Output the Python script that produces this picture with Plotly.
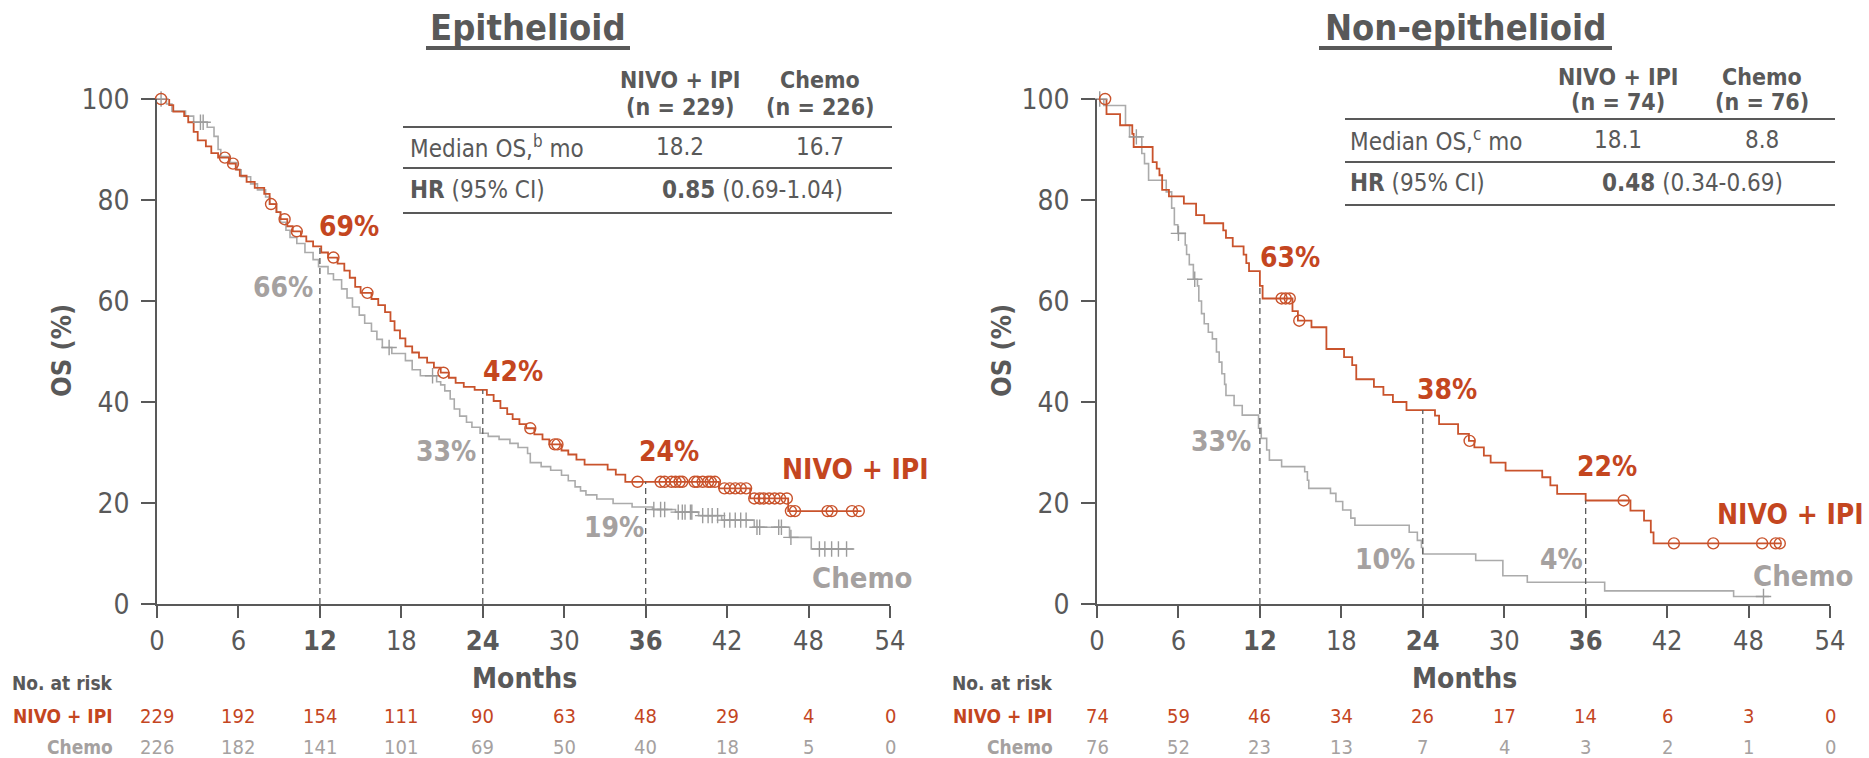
import bisect
import plotly.graph_objects as go

W, H = 1869, 758

# ---------------- data ----------------
month_ticks = [0, 6, 12, 18, 24, 30, 36, 42, 48, 54]
os_ticks = [0, 20, 40, 60, 80, 100]
landmarks = [12, 24, 36]

# Epithelioid - NIVO + IPI
epi_nivo_t = [0, 0.9, 1.2, 2.0, 2.3, 2.7, 3.0, 3.6, 4.0, 4.5, 5.3, 5.8, 6.1, 6.6, 7.2, 7.9, 8.3, 8.8,
              9.1, 9.6, 10.0, 10.6, 11.0, 11.5, 12.1, 12.6, 13.3, 13.8, 14.2, 14.6, 15.0, 15.8, 16.3,
              16.8, 17.2, 17.5, 17.9, 18.3, 18.8, 19.3, 19.9, 20.4, 20.9, 21.5, 22.0, 22.6, 23.4, 24.3,
              24.8, 25.3, 25.8, 26.2, 26.7, 27.2, 27.8, 28.4, 28.9, 29.8, 30.3, 30.9, 31.5, 33.2, 33.8,
              34.5, 41.4, 43.7, 46.5]
epi_nivo_s = [100, 98.8, 97.5, 96.6, 95.4, 93.5, 91.8, 90.6, 89.3, 88.4, 87.2, 86.0, 84.8, 83.6, 82.4,
              81.2, 79.2, 77.6, 76.2, 74.8, 73.8, 72.8, 71.8, 70.8, 69.6, 68.6, 67.4, 66.0, 64.6, 62.8,
              61.6, 60.4, 59.2, 57.8, 56.0, 54.2, 52.6, 51.0, 49.8, 48.8, 47.8, 46.8, 45.8, 44.8, 43.8,
              43.0, 42.4, 41.4, 40.2, 38.8, 37.6, 36.6, 35.6, 34.8, 33.6, 32.6, 31.6, 30.4, 29.6, 28.6,
              27.6, 26.6, 25.6, 24.2, 22.9, 20.9, 18.4]
epi_nivo_end = 51.9
epi_nivo_cens = [0.3, 5.0, 5.6, 8.4, 9.4, 10.3, 13.0, 15.5, 21.1, 27.5, 29.3, 29.5, 35.4, 37.1, 37.4,
                 37.9, 38.2, 38.5, 38.7, 39.6, 39.8, 40.2, 40.6, 40.8, 41.1, 41.8, 42.2, 42.6, 43.0,
                 43.4, 44.0, 44.4, 44.7, 45.1, 45.5, 45.9, 46.4, 46.7, 47.0, 49.4, 49.7, 51.2, 51.7]

# Epithelioid - Chemo
epi_chemo_t = [0, 0.7, 1.1, 2.1, 2.7, 3.7, 4.2, 4.5, 4.7, 5.4, 5.9, 6.2, 6.9, 7.4, 8.0, 8.3, 8.8, 9.1,
               9.5, 9.8, 10.3, 10.9, 11.5, 11.9, 12.6, 13.0, 13.6, 14.0, 14.4, 14.9, 15.3, 15.8, 16.2,
               16.6, 17.3, 18.3, 18.8, 19.4, 20.6, 20.9, 21.2, 21.6, 21.9, 22.3, 22.8, 23.2, 23.8, 24.4,
               25.2, 26.0, 26.6, 27.3, 27.5, 28.3, 29.0, 29.8, 30.3, 30.8, 31.2, 31.6, 32.4, 33.6, 35.0,
               36.5, 38.2, 39.9, 41.6, 44.0, 46.6, 48.2]
epi_chemo_s = [100, 99.0, 97.6, 96.6, 95.4, 94.4, 92.6, 90.0, 88.6, 87.4, 86.0, 84.6, 83.2, 82.0, 80.6,
               79.2, 77.6, 75.6, 74.0, 72.6, 71.4, 69.6, 68.2, 66.8, 65.4, 64.2, 62.4, 60.6, 58.8, 57.2,
               55.6, 54.0, 52.4, 50.8, 49.6, 48.2, 46.4, 45.2, 44.0, 43.4, 42.2, 40.6, 38.6, 37.2, 36.0,
               35.0, 33.8, 33.2, 32.6, 31.8, 31.0, 29.8, 28.0, 27.2, 26.5, 25.5, 24.4, 23.2, 22.4, 21.6,
               20.8, 19.9, 19.2, 18.7, 18.2, 17.5, 16.6, 15.2, 13.2, 10.9]
epi_chemo_end = 51.3
epi_chemo_cens = [0.3, 3.2, 3.4, 17.1, 20.3, 36.6, 37.1, 37.4, 38.4, 38.7, 38.9, 39.3, 39.4, 40.2,
                  40.6, 40.9, 41.3, 41.8, 42.2, 42.6, 43.0, 43.4, 44.2, 44.4, 45.8, 46.0, 46.7, 48.8,
                  49.2, 49.7, 50.2, 50.8]

# Non-epithelioid - NIVO + IPI
non_nivo_t = [0, 0.7, 1.7, 2.6, 2.7, 4.1, 4.4, 4.6, 4.8, 5.3, 6.4, 7.3, 7.9, 9.3, 9.5, 10.0, 10.8, 11.0,
              11.2, 12.0, 12.2, 14.4, 14.8, 15.8, 16.9, 18.2, 18.8, 19.1, 20.4, 21.1, 21.8, 22.8, 24.9,
              25.2, 26.6, 27.4, 27.8, 28.5, 29.0, 30.1, 32.8, 33.4, 33.9, 36.0, 39.3, 40.3, 40.8, 41.0]
non_nivo_s = [100, 97.0, 94.8, 93.1, 90.5, 87.5, 86.2, 84.9, 82.0, 80.7, 79.3, 77.0, 75.4, 74.0, 72.5,
              70.8, 69.2, 67.5, 65.9, 63.0, 60.5, 58.0, 56.1, 54.8, 50.5, 48.9, 47.3, 44.5, 43.0, 41.4,
              40.0, 38.4, 37.3, 35.6, 33.7, 32.3, 31.0, 29.4, 28.0, 26.4, 25.1, 23.5, 21.8, 20.5, 18.5,
              16.5, 14.2, 12.0]
non_nivo_end = 50.4
non_nivo_cens = [0.6, 13.6, 13.9, 14.2, 14.9, 27.45, 38.8, 42.5, 45.4, 49.0, 50.0, 50.3]

# Non-epithelioid - Chemo
non_chemo_t = [0, 0.5, 2.1, 2.4, 3.3, 3.5, 3.8, 5.1, 5.5, 5.7, 5.95, 6.5, 6.6, 6.8, 7.1, 7.4, 7.5, 7.7,
               7.9, 8.2, 8.5, 8.8, 9.0, 9.2, 9.4, 9.5, 10.1, 10.7, 11.9, 12.1, 12.5, 12.7, 13.6, 15.3,
               15.5, 15.6, 17.2, 17.6, 18.1, 18.7, 19.0, 23.0, 23.6, 23.9, 24.0, 27.9, 29.9, 31.7, 37.4,
               46.9]
non_chemo_s = [100, 98.7, 94.8, 92.5, 89.2, 87.2, 83.9, 81.6, 78.4, 75.1, 73.4, 71.1, 69.2, 67.2, 64.3,
               63.0, 60.0, 57.5, 55.5, 53.8, 52.5, 49.9, 47.9, 45.6, 43.5, 41.3, 39.3, 37.4, 34.8, 32.8,
               30.5, 28.5, 27.2, 26.2, 24.5, 22.9, 21.9, 20.3, 18.6, 17.0, 15.6, 14.2, 12.6, 11.2, 9.9,
               8.6, 5.6, 4.3, 2.6, 1.5]
non_chemo_end = 49.5
non_chemo_cens = [0.2, 2.9, 6.0, 7.2, 49.1]

# Numbers at risk
epi_risk_nivo = [229, 192, 154, 111, 90, 63, 48, 29, 4, 0]
epi_risk_chemo = [226, 182, 141, 101, 69, 50, 40, 18, 5, 0]
non_risk_nivo = [74, 59, 46, 34, 26, 17, 14, 6, 3, 0]
non_risk_chemo = [76, 52, 23, 13, 7, 4, 3, 2, 1, 0]

# Landmark percentages
epi_pct_nivo = ["69%", "42%", "24%"]
epi_pct_chemo = ["66%", "33%", "19%"]
non_pct_nivo = ["63%", "38%", "22%"]
non_pct_chemo = ["33%", "10%", "4%"]

# Summary tables
epi_n = [229, 226]
non_n = [74, 76]
epi_median = ["18.2", "16.7"]
non_median = ["18.1", "8.8"]
epi_hr, epi_ci = "0.85", "(0.69-1.04)"
non_hr, non_ci = "0.48", "(0.34-0.69)"

# ---------------- style ----------------
FONT = "DejaVu Sans Condensed, DejaVu Sans, sans-serif"
DARK = "#595959"
RED = "#C4461F"
RED_LINE = "#C9532C"
GRAY_TXT = "#A5A1A0"
GRAY_LINE = "#ABABAB"
GRAY_MARK = "#9C9C9C"


def fx(px):
    return px / W


def fy(py):
    return 1 - py / H


YD = [fy(604), fy(99)]
XD1 = [fx(157), fx(890)]
XD2 = [fx(1097), fx(1830)]


def surv_at(ts, ss, x):
    return ss[bisect.bisect_right(ts, x) - 1]


fig = go.Figure()


def add_panel(xa, ya, nt, ns, nend, ncens, ct, cs, cend, ccens):
    fig.add_trace(go.Scatter(x=ct + [cend], y=cs + [cs[-1]], mode="lines", line_shape="hv",
                             line=dict(color=GRAY_LINE, width=1.6), xaxis=xa, yaxis=ya,
                             hoverinfo="skip"))
    fig.add_trace(go.Scatter(x=nt + [nend], y=ns + [ns[-1]], mode="lines", line_shape="hv",
                             line=dict(color=RED_LINE, width=1.8), xaxis=xa, yaxis=ya,
                             hoverinfo="skip"))
    fig.add_trace(go.Scatter(x=ccens, y=[surv_at(ct, cs, c) for c in ccens], mode="markers",
                             marker=dict(symbol="cross-thin-open", size=11, color=GRAY_MARK,
                                         line=dict(color=GRAY_MARK, width=1.4)),
                             xaxis=xa, yaxis=ya, cliponaxis=False, hoverinfo="skip"))
    fig.add_trace(go.Scatter(x=ncens, y=[surv_at(nt, ns, c) for c in ncens], mode="markers",
                             marker=dict(symbol="circle-open", size=11, color=RED_LINE,
                                         line=dict(color=RED_LINE, width=1.4)),
                             xaxis=xa, yaxis=ya, cliponaxis=False, hoverinfo="skip"))
    for lm in landmarks:
        fig.add_trace(go.Scatter(x=[lm, lm], y=[0, surv_at(nt, ns, lm)], mode="lines",
                                 line=dict(color=DARK, width=1.3, dash="6px,4px"),
                                 xaxis=xa, yaxis=ya, hoverinfo="skip"))


add_panel("x", "y", epi_nivo_t, epi_nivo_s, epi_nivo_end, epi_nivo_cens,
          epi_chemo_t, epi_chemo_s, epi_chemo_end, epi_chemo_cens)
add_panel("x2", "y2", non_nivo_t, non_nivo_s, non_nivo_end, non_nivo_cens,
          non_chemo_t, non_chemo_s, non_chemo_end, non_chemo_cens)


def tick_text(v):
    if v in landmarks:
        return f"<b>{v}</b>"
    return str(v)


def xax(domain, anchor):
    return dict(domain=domain, anchor=anchor, range=[0, 54], tickvals=month_ticks,
                ticktext=[tick_text(v) for v in month_ticks], ticks="outside", ticklen=12,
                tickwidth=1.5, tickcolor=DARK, showline=True, linecolor=DARK, linewidth=1.5,
                showgrid=False, zeroline=False, tickfont=dict(size=27, color=DARK, family=FONT),
                fixedrange=True, automargin=False)


def yax(anchor):
    return dict(domain=YD, anchor=anchor, range=[0, 100], tickvals=os_ticks, ticks="outside",
                ticklen=14, tickwidth=1.5, tickcolor=DARK, showline=True, linecolor=DARK,
                linewidth=1.5, showgrid=False, zeroline=False, ticklabelstandoff=6,
                tickfont=dict(size=28, color=DARK, family=FONT), fixedrange=True,
                automargin=False)


ann = []
shapes = []


def A(x, y, text, size, color, xanchor="center", yanchor="middle", xref="paper"):
    ann.append(dict(x=x if xref != "paper" else fx(x), y=fy(y), xref=xref, yref="paper",
                    text=text, showarrow=False, xanchor=xanchor, yanchor=yanchor,
                    font=dict(size=size, color=color, family=FONT)))


def hline(x0, x1, y, width=2):
    shapes.append(dict(type="line", xref="paper", yref="paper", x0=fx(x0), x1=fx(x1),
                       y0=fy(y), y1=fy(y), line=dict(color=DARK, width=width)))


# Titles
A(528, 27, "<b>Epithelioid</b>", 36, DARK)
hline(426, 630, 48, 4)
A(1465, 27, "<b>Non-epithelioid</b>", 36, DARK)
hline(1319, 1612, 48, 4)

# Axis titles
for cx, cm in [(524, 678), (1464, 678)]:
    A(cx, cm, "<b>Months</b>", 28, DARK)
for cx in [62, 1002]:
    ann.append(dict(x=fx(cx), y=fy(351), xref="paper", yref="paper", text="<b>OS (%)</b>",
                    showarrow=False, textangle=-90, xanchor="center", yanchor="middle",
                    font=dict(size=27, color=DARK, family=FONT)))


# Summary tables
def table(cols, hr_c, y_h1, y_h2, y_r1, y_r2, rules, x0, x1, lab_x, n, med, hr, ci, sup):
    A(cols[0], y_h1, "<b>NIVO + IPI</b>", 23, DARK)
    A(cols[1], y_h1, "<b>Chemo</b>", 23, DARK)
    A(cols[0], y_h2, f"<b>(n = {n[0]})</b>", 23, DARK)
    A(cols[1], y_h2, f"<b>(n = {n[1]})</b>", 23, DARK)
    A(lab_x, y_r1, f"Median OS,<sup>{sup}</sup> mo", 24, DARK, xanchor="left")
    A(cols[0], y_r1, med[0], 24, DARK)
    A(cols[1], y_r1, med[1], 24, DARK)
    A(lab_x, y_r2, "<b>HR</b> (95% CI)", 24, DARK, xanchor="left")
    A(hr_c, y_r2, f"<b>{hr}</b> {ci}", 24, DARK)
    for r in rules:
        hline(x0, x1, r, 2)


table([680, 820], 752, 80, 107, 147, 190, [127, 168, 213], 403, 892, 408,
      epi_n, epi_median, epi_hr, epi_ci, "b")
table([1618, 1762], 1692, 77, 102, 140, 183, [119, 162, 205], 1345, 1835, 1348,
      non_n, non_median, non_hr, non_ci, "c")

# Landmark labels
epi_nivo_pos = [(349, 226), (513, 371), (669, 451)]
epi_chemo_pos = [(283, 287), (446, 451), (614, 527)]
non_nivo_pos = [(1290, 257), (1447, 389), (1607, 466)]
non_chemo_pos = [(1221, 441), (1385, 559), (1561, 559)]
for labels, pos, col in [(epi_pct_nivo, epi_nivo_pos, RED), (epi_pct_chemo, epi_chemo_pos, GRAY_TXT),
                         (non_pct_nivo, non_nivo_pos, RED), (non_pct_chemo, non_chemo_pos, GRAY_TXT)]:
    for t, (px, py) in zip(labels, pos):
        A(px, py, f"<b>{t}</b>", 28, col)

A(855, 469, "<b>NIVO + IPI</b>", 28, RED)
A(862, 578, "<b>Chemo</b>", 29, GRAY_TXT)
A(1790, 514, "<b>NIVO + IPI</b>", 28, RED)
A(1803, 576, "<b>Chemo</b>", 29, GRAY_TXT)

# Numbers at risk
for xref, lab_right, rn, rc in [("x", 115, epi_risk_nivo, epi_risk_chemo),
                                ("x2", 1055, non_risk_nivo, non_risk_chemo)]:
    A(lab_right, 683, "<b>No. at risk</b>", 19, DARK, xanchor="right")
    A(lab_right, 716, "<b>NIVO + IPI</b>", 19, RED, xanchor="right")
    A(lab_right, 747, "<b>Chemo</b>", 19, GRAY_TXT, xanchor="right")
    for m, a, b in zip(month_ticks, rn, rc):
        A(m, 716, str(a), 20, RED, xref=xref)
        A(m, 747, str(b), 20, GRAY_TXT, xref=xref)

fig.update_layout(
    width=W, height=H, margin=dict(l=0, r=0, t=0, b=0, autoexpand=False),
    paper_bgcolor="white", plot_bgcolor="white", showlegend=False,
    font=dict(family=FONT, color=DARK),
    xaxis=xax(XD1, "y"), yaxis=yax("x"),
    xaxis2=xax(XD2, "y2"), yaxis2=yax("x2"),
    annotations=ann, shapes=shapes,
)

# remove the browser's default page margin so the figure fills the window exactly
fig.write_html("out.html", config={"displayModeBar": False},
               post_script="document.body.style.margin='0';")
